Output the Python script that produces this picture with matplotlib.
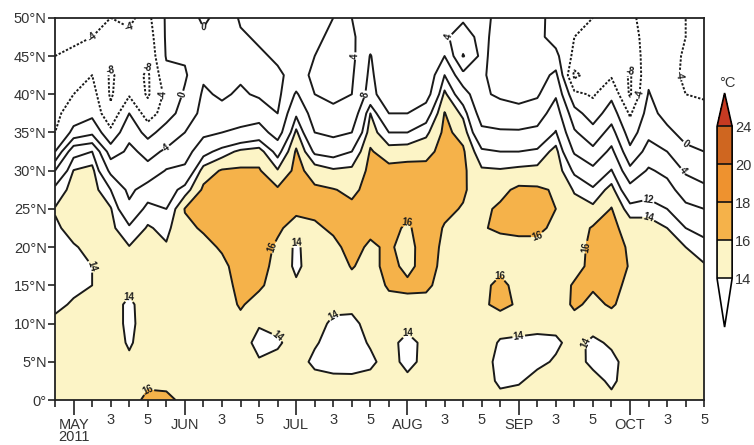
import numpy as np
import matplotlib
matplotlib.use('Agg')
import matplotlib.pyplot as plt
from matplotlib.colors import ListedColormap, BoundaryNorm

plt.rcParams['font.family'] = ['Liberation Sans', 'DejaVu Sans']

# grid: pentads (0 = last pentad of April ... 35 = 5th pentad of October)
# latitudes 0N..50N every 2.5 deg
lats = np.arange(0, 50.1, 2.5)
pentads = np.arange(36)

# values per pentad, listed from 0N up to 50N (degC)
temp_by_pentad = [
    [15.0,15.0,15.0,14.8,14.4,13.6,13.4,13.5,13.7,13.8,14.1,13.0,8.0,0.0,-4.0,-5.0,-5.5,-5.0,-4.0,-3.0,-2.0],
    [15.0,15.0,15.0,14.9,14.6,14.2,13.6,13.7,13.9,14.4,14.8,14.6,14.1,11.0,1.0,-2.0,-4.0,-5.0,-4.5,-3.5,-2.5],
    [15.0,15.0,15.0,15.0,14.8,14.5,14.0,14.0,14.3,14.7,15.0,15.0,14.8,12.0,3.0,-1.0,-2.5,-4.0,-5.0,-4.0,-3.0],
    [15.0,15.0,15.0,14.8,14.6,14.4,14.3,14.4,14.5,14.5,14.2,12.0,7.0,2.0,-3.0,-7.0,-8.5,-8.5,-6.5,-5.0,-4.0],
    [15.0,15.0,14.3,13.8,13.7,13.8,14.3,14.5,14.1,12.5,9.0,7.0,5.5,4.8,3.0,0.0,-4.5,-6.0,-5.0,-4.5,-3.5],
    [16.6,15.5,15.0,14.8,14.6,14.5,14.5,14.5,14.6,14.2,13.0,10.0,5.0,3.0,-1.5,-6.0,-8.5,-8.6,-7.0,-6.0,-5.0],
    [16.5,15.4,15.0,15.0,15.0,14.8,14.6,14.5,14.2,13.5,12.0,10.5,8.3,4.5,2.0,-2.0,-3.0,-1.0,0.3,0.5,0.5],
    [15.5,15.0,15.0,15.0,15.0,15.0,15.0,15.2,15.4,15.6,16.1,13.0,9.0,6.0,4.0,2.0,0.5,-0.5,0.5,1.0,1.5],
    [15.0,15.0,15.0,15.0,15.0,15.1,15.2,15.3,15.5,16.2,16.6,16.4,15.0,11.0,7.0,5.0,4.5,3.5,2.0,0.5,-0.5],
    [15.0,15.0,15.0,15.0,15.0,15.1,15.3,15.6,16.2,16.6,16.8,16.6,16.2,13.0,8.0,5.0,3.5,3.0,2.5,2.0,1.0],
    [15.0,15.0,15.0,15.0,15.5,16.2,16.5,16.7,16.8,16.8,16.8,16.7,16.3,14.5,9.0,5.5,4.5,3.5,3.0,3.5,4.5],
    [15.0,14.8,14.2,13.3,14.2,15.3,16.3,16.7,16.8,16.8,16.7,16.5,16.2,15.0,10.0,6.0,3.5,3.0,3.5,4.5,5.0],
    [15.0,14.8,14.4,13.8,14.4,15.0,15.2,15.4,15.7,16.3,16.6,16.3,14.2,11.0,6.0,4.0,3.0,3.5,4.5,5.0,5.5],
    [15.0,15.0,14.8,14.6,14.6,14.6,14.3,13.6,13.6,15.3,16.4,16.7,16.6,16.3,14.5,11.5,8.5,5.0,4.5,5.0,5.5],
    [15.0,14.6,13.6,14.2,14.6,14.8,14.9,15.0,15.3,15.8,16.3,16.3,15.2,11.5,8.0,6.0,4.0,3.5,4.0,4.5,5.0],
    [15.0,14.5,13.2,13.3,13.7,14.4,14.8,15.2,15.7,16.2,16.4,16.1,14.3,11.0,7.0,4.5,3.5,3.0,3.0,3.5,4.0],
    [15.0,14.4,13.3,13.2,13.5,14.5,15.5,16.1,16.4,16.5,16.4,15.6,14.5,12.0,8.0,5.0,4.0,3.5,3.0,3.5,4.0],
    [15.0,14.6,13.6,14.2,14.7,15.0,15.2,15.5,15.8,16.3,16.5,16.6,16.5,16.2,15.2,14.0,9.5,8.8,8.2,6.0,5.0],
    [15.0,15.0,14.8,14.6,14.9,15.5,16.2,16.5,16.2,16.4,16.6,16.7,16.6,15.0,12.0,8.0,5.0,4.5,4.5,5.0,5.0],
    [15.0,14.5,13.4,13.4,14.6,15.6,16.3,15.6,15.5,15.8,16.5,16.8,16.7,15.2,12.0,8.0,5.0,4.5,4.5,4.5,4.5],
    [15.0,15.0,14.6,14.5,14.8,15.5,16.3,16.6,16.7,16.7,16.8,16.8,16.6,15.4,13.5,10.5,6.0,4.5,4.5,4.5,5.0],
    [15.0,15.0,14.8,14.7,14.9,15.2,15.4,15.6,15.7,15.9,16.3,16.7,16.8,16.7,16.5,16.1,14.5,12.0,8.0,4.5,4.5],
    [15.0,15.0,15.0,15.0,15.0,15.1,15.3,15.5,15.7,15.8,15.9,16.2,16.4,16.3,15.3,13.5,10.0,5.0,-0.3,2.5,4.5],
    [15.0,15.0,15.0,15.0,15.0,15.6,15.6,15.5,15.7,15.9,15.6,15.2,14.3,12.5,9.0,6.0,4.5,4.5,5.0,5.0,5.0],
    [14.6,13.6,13.3,13.8,14.8,16.6,16.4,15.6,15.5,16.2,16.3,15.5,14.2,12.0,8.5,5.5,3.5,2.5,2.0,2.5,3.0],
    [14.8,13.8,13.4,13.7,14.6,15.7,15.5,15.4,15.6,16.3,16.6,16.4,14.5,12.0,8.5,5.0,3.0,2.0,1.5,2.0,2.5],
    [15.0,14.6,13.6,13.5,14.6,15.0,15.2,15.4,15.6,16.3,16.6,16.3,14.6,12.5,9.0,6.0,3.5,2.0,1.0,1.0,1.5],
    [15.0,14.9,14.2,13.7,14.5,15.0,15.1,15.2,15.4,15.7,16.0,15.8,15.3,14.8,12.2,10.0,7.5,5.0,1.0,-1.5,-2.0],
    [15.0,15.0,14.8,14.6,15.3,16.3,16.2,15.4,15.2,15.0,14.8,13.8,11.5,7.5,4.5,1.5,-3.0,-9.0,-5.0,-4.0,-3.0],
    [15.0,14.7,13.5,13.6,14.8,15.6,16.2,16.5,16.5,16.2,14.5,12.5,9.0,5.0,1.5,-2.0,-4.5,-6.0,-6.0,-5.0,-4.0],
    [14.5,13.6,13.5,14.3,15.2,16.2,16.5,16.7,16.6,16.5,16.1,14.8,12.2,9.0,5.5,2.0,-1.0,-4.5,-6.0,-5.5,-4.5],
    [15.0,15.0,14.8,14.8,15.0,15.3,15.6,15.9,15.8,15.2,13.0,9.5,5.0,1.0,-2.0,-4.5,-8.5,-8.5,-6.0,-5.0,-4.5],
    [15.0,15.0,15.0,15.0,15.0,15.0,15.0,15.0,14.8,14.6,13.5,10.5,8.5,5.5,3.0,1.5,0.3,-1.0,-2.5,-3.0,-3.0],
    [15.0,15.0,15.0,15.0,15.0,15.0,15.0,14.8,14.6,14.0,12.0,9.5,7.0,4.0,1.0,-1.5,-3.0,-3.0,-2.5,-2.0,-2.0],
    [15.0,15.0,15.0,15.0,15.0,15.0,14.8,14.5,14.0,12.0,9.0,6.0,3.5,1.0,-1.5,-3.0,-4.0,-4.5,-4.5,-4.0,-4.0],
    [15.0,15.0,15.0,15.0,15.0,14.8,14.6,14.2,13.0,11.0,8.0,5.0,2.0,0.0,-2.0,-3.5,-4.2,-4.3,-4.3,-4.3,-4.3],
]

fill_levels = [14, 16, 18, 20, 24]
fill_colors = ['#ffffff', '#fcf4c6', '#f5b24a', '#ee922f', '#cf6620', '#c63a22']
line_levels = [-8, -4, 0, 4, 8, 12, 14, 16]

xtick_pos = [1, 3, 5, 7, 9, 11, 13, 15, 17, 19, 21, 23, 25, 27, 29, 31, 33, 35]
xtick_labels = ['MAY\n2011', '3', '5', 'JUN', '3', '5', 'JUL', '3', '5',
                'AUG', '3', '5', 'SEP', '3', '5', 'OCT', '3', '5']
month_pos = [1, 7, 13, 19, 25, 31]
ytick_pos = [0, 5, 10, 15, 20, 25, 30, 35, 40, 45, 50]
ytick_labels = ['0°'] + [f'{v}°N' for v in ytick_pos[1:]]

temp = np.array(temp_by_pentad).T

fig = plt.figure(figsize=(7.54, 4.45), dpi=100)
ax = fig.add_axes([0.073, 0.101, 0.861, 0.859])

cmap = ListedColormap(fill_colors[1:-1])
cmap.set_under(fill_colors[0])
cmap.set_over(fill_colors[-1])
norm = BoundaryNorm(fill_levels, cmap.N)

cf = ax.contourf(pentads, lats, temp, levels=fill_levels, cmap=cmap, norm=norm, extend='both')
styles = [(0, (1.2, 0.9)) if v < 0 else 'solid' for v in line_levels]
cs = ax.contour(pentads, lats, temp, levels=line_levels, colors='#1a1a1a',
                linewidths=1.4, linestyles=styles)
ax.clabel(cs, fmt='%d', fontsize=7, inline=True, inline_spacing=1)
for t in cs.labelTexts:
    t.set_fontweight('bold')

ax.set_xlim(0, 35)
ax.set_ylim(0, 50)
ax.set_yticks(ytick_pos)
ax.set_yticklabels(ytick_labels)
ax.set_xticks(xtick_pos)
ax.set_xticklabels(xtick_labels, linespacing=0.85)
ax.set_xticks(range(0, 36), minor=True)
ax.tick_params(axis='both', which='both', direction='out', color='#222222',
               labelsize=10.5, labelcolor='#333333', width=1.2)
ax.tick_params(axis='x', which='major', length=5)
ax.tick_params(axis='x', which='minor', length=5)
ax.tick_params(axis='y', length=5, pad=1)
# month starts get a longer tick and a lower label
for tick, pos in zip(ax.xaxis.get_major_ticks(), xtick_pos):
    if pos in month_pos:
        tick.set_pad(8)
        tick.tick1line.set_markersize(11)
    else:
        tick.set_pad(4.5)
for s in ax.spines.values():
    s.set_linewidth(1.3)
    s.set_color('#222222')

cax = fig.add_axes([0.951, 0.265, 0.020, 0.526])
cb = fig.colorbar(cf, cax=cax, extendfrac=(0.32, 0.22), drawedges=True)
cb.set_ticks(fill_levels)
cb.ax.tick_params(length=0, labelsize=10.5, labelcolor='#333333', pad=2)
cb.outline.set_linewidth(1.2)
cb.dividers.set_linewidth(1.2)
cb.dividers.set_color('#111111')
fig.text(0.964, 0.805, '°C', fontsize=10.5, color='#333333', ha='center')

fig.savefig('out.png', dpi=100)
